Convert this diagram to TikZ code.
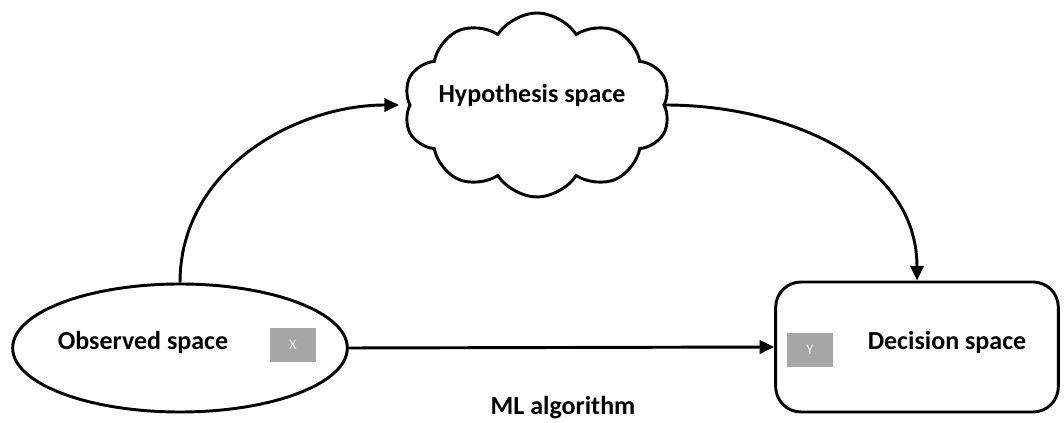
\documentclass[tikz,border=0pt]{standalone}
\usepackage{fontspec}
\setmainfont{Carlito}
\usepackage{tikz}
\usetikzlibrary{arrows.meta,shapes.geometric,shapes.symbols}

\definecolor{tagfill}{HTML}{A6A6A6}
\definecolor{tagtext}{HTML}{EDEDED}

\tikzset{
    space/.style={draw, line width=2.2pt, fill=white},
    lbl/.style={font=\bfseries\fontsize{19.5}{23}\selectfont, inner sep=0pt},
    tagbox/.style={fill=tagfill, text=tagtext, minimum width=34.5pt, minimum height=26pt,
        inner sep=0pt, font=\fontsize{11}{13}\selectfont},
    arr/.style={line width=2.2pt, -{Triangle[length=11pt,width=10pt]}},
}

\begin{document}
\begin{tikzpicture}[x=0.75pt,y=-0.75pt]
    \useasboundingbox (0,0) rectangle (1064,423);
    \node[space, ellipse, minimum width=251pt, minimum height=96pt] (obs) at (180,348) {};
    \node[space, rounded corners=19pt, minimum width=212pt, minimum height=97.5pt] (dec) at (917,347) {};
    \node[space, cloud, cloud puffs=10, cloud puff arc=115, aspect=1.45,
          minimum width=200pt, minimum height=138pt] (hyp) at (537,105) {};
    \node[lbl] (obstxt) at (143,342) {Observed space};
    \node[tagbox] (x) at (293,345) {X};
    \node[lbl] (dectxt) at (947,342) {Decision space};
    \node[tagbox] (y) at (810,350) {Y};
    \node[lbl] (hyptxt) at (532,95) {Hypothesis space};
    \node[lbl] (ml) at (563,408) {ML algorithm};
    \draw[arr, shorten >=7pt] (obs.north) to[out=90,in=180] (hyp.west);
    \draw[arr] (hyp.east) to[out=0,in=90] (dec.north);
    \draw[arr] (obs.east) -- (dec.west);
\end{tikzpicture}
\end{document}
